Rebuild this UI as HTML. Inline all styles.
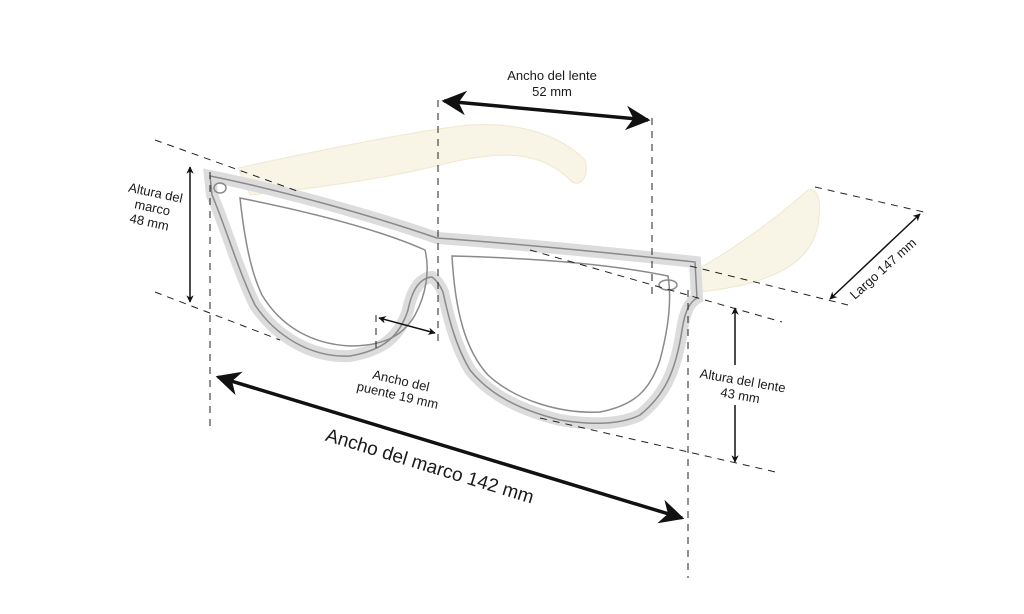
<!DOCTYPE html>
<html><head><meta charset="utf-8"><style>
html,body{margin:0;padding:0;background:#fff;}
svg{display:block;}
text{font-family:"Liberation Sans",sans-serif;fill:#1a1a1a;}
</style></head><body>
<svg width="1024" height="614" viewBox="0 0 1024 614" xmlns="http://www.w3.org/2000/svg">
<defs>
<marker id="ah" viewBox="0 0 10 10" refX="9" refY="5" markerWidth="7" markerHeight="7" orient="auto-start-reverse"><path d="M0,0 L10,5 L0,10 L3,5 z" fill="#111"/></marker>
<marker id="ahb" viewBox="0 0 10 10" refX="9" refY="5" markerWidth="5" markerHeight="5" orient="auto-start-reverse"><path d="M0,0 L10,5 L0,10 L3,5 z" fill="#111"/></marker>
</defs>
<!-- temples -->
<path d="M238,168 C320,150 420,130 470,125 C520,122 560,135 585,160 C590,175 580,190 570,180 C540,150 500,150 440,165 C380,180 300,190 250,195 Z" fill="#f8f4e6" stroke="#efe8d0" stroke-width="1"/>
<path d="M700,268 C740,245 780,215 808,190 C818,188 822,200 818,225 C812,255 790,270 760,280 C740,287 715,290 700,292 Z" fill="#f8f4e6" stroke="#efe8d0" stroke-width="1"/>
<!-- frame -->
<g fill="none" stroke="#8a8a8a">
<path d="M210,176 C280,190 370,215 437,238 C520,244 620,254 695,262 L697,298 C690,302 685,310 682,330 C676,370 665,395 640,415 C620,425 590,425 560,420 C520,410 490,395 470,370 C455,345 448,315 443,292 C440,285 436,280 432,277 C420,278 412,290 408,310 C400,335 385,350 350,356 C310,358 275,335 255,305 C238,270 225,225 212,195 Z" stroke-width="12" stroke="#dcdcdc"/>
<path d="M210,176 C280,190 370,215 437,238 C520,244 620,254 695,262 L697,298 C690,302 685,310 682,330 C676,370 665,395 640,415 C620,425 590,425 560,420 C520,410 490,395 470,370 C455,345 448,315 443,292 C440,285 436,280 432,277 C420,278 412,290 408,310 C400,335 385,350 350,356 C310,358 275,335 255,305 C238,270 225,225 212,195 Z" stroke-width="1.5"/>
<path d="M240,198 C310,212 380,230 425,250 C430,270 426,295 415,315 C402,338 380,346 350,346 C310,344 280,325 262,295 C250,270 244,235 240,198 Z" stroke-width="1.5"/>
<path d="M452,256 C530,258 610,264 668,276 C672,300 668,330 660,360 C650,390 635,405 600,412 C560,414 515,400 488,375 C465,350 455,310 452,256 Z" stroke-width="1.5"/>
<ellipse cx="220" cy="188" rx="6" ry="5" stroke-width="1.5"/>
<ellipse cx="668" cy="285" rx="9" ry="5" stroke-width="1.5"/>
</g>
<!-- dashed lines -->
<g stroke="#222" stroke-width="1" stroke-dasharray="7,6" fill="none">
<line x1="155" y1="140" x2="300" y2="192"/>
<line x1="155" y1="292" x2="280" y2="340"/>
<line x1="540" y1="418" x2="780" y2="473"/>
<line x1="530" y1="250" x2="782" y2="322"/>
<line x1="690" y1="266" x2="848" y2="305"/>
<line x1="815" y1="187" x2="928" y2="213"/>
<line x1="210" y1="172" x2="210" y2="432"/>
<line x1="438" y1="100" x2="438" y2="345"/>
<line x1="652" y1="118" x2="652" y2="295"/>
<line x1="688" y1="290" x2="688" y2="578"/>
<line x1="376" y1="315" x2="376" y2="352"/>
</g>
<!-- arrows -->
<g stroke="#111" fill="none">
<line x1="444" y1="101" x2="648" y2="120" stroke-width="3.5" marker-start="url(#ah)" marker-end="url(#ah)"/>
<line x1="218" y1="377" x2="682" y2="518" stroke-width="3.5" marker-start="url(#ah)" marker-end="url(#ah)"/>
<line x1="190" y1="167" x2="190" y2="302" stroke-width="1.5" marker-start="url(#ahb)" marker-end="url(#ahb)"/>
<line x1="379" y1="318" x2="435" y2="333" stroke-width="1.5" marker-start="url(#ahb)" marker-end="url(#ahb)"/>
<line x1="830" y1="299" x2="920" y2="214" stroke-width="1.5" marker-start="url(#ahb)" marker-end="url(#ahb)"/>
<line x1="735" y1="308" x2="735" y2="365" stroke-width="1.5" marker-start="url(#ahb)"/>
<line x1="735" y1="405" x2="735" y2="462" stroke-width="1.5" marker-end="url(#ahb)"/>
</g>
<!-- labels -->
<text x="552" y="80" font-size="13" text-anchor="middle">Ancho del lente</text>
<text x="552" y="96" font-size="13" text-anchor="middle">52 mm</text>
<g transform="translate(153,205) rotate(12)" font-size="13" text-anchor="middle">
<text x="0" y="-8">Altura del</text><text x="0" y="7">marco</text><text x="0" y="22">48 mm</text></g>
<g transform="translate(400,385) rotate(13)" font-size="13" text-anchor="middle">
<text x="0" y="0">Ancho del</text><text x="0" y="15">puente 19 mm</text></g>
<g transform="translate(742,385) rotate(10)" font-size="13" text-anchor="middle">
<text x="0" y="0">Altura del lente</text><text x="0" y="15">43 mm</text></g>
<text transform="translate(428,472) rotate(17)" font-size="19" text-anchor="middle">Ancho del marco 142 mm</text>
<text transform="translate(886,272) rotate(-42)" font-size="13" text-anchor="middle">Largo  147 mm</text>
</svg>
</body></html>
